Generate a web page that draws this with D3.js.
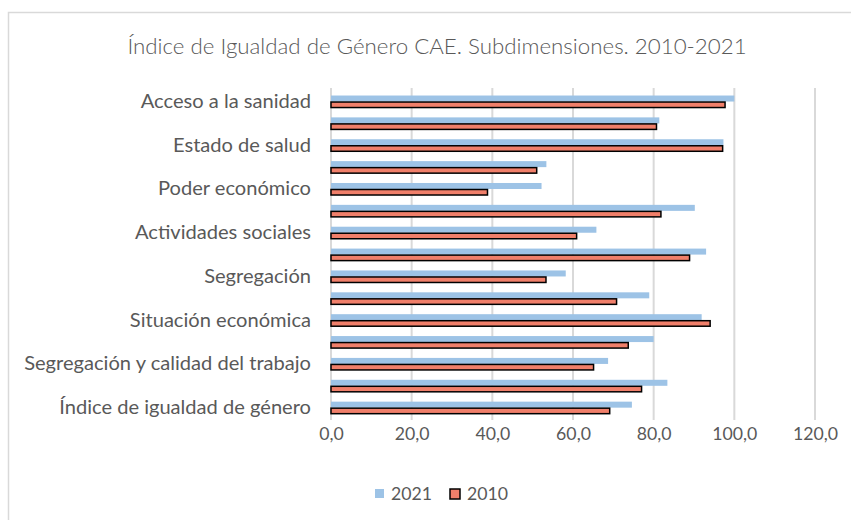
<!DOCTYPE html>
<html>
<head>
<meta charset="utf-8">
<script src="https://cdn.jsdelivr.net/npm/d3@7"></script>
<style>
  body { margin: 0; background: #fff; }
  text { font-family: Lato, "Open Sans", sans-serif; fill: #595959; }
</style>
</head>
<body>
<svg id="chart" width="851" height="520"></svg>
<script>
// categories, top to bottom as drawn
var categories = [
    'Acceso a la sanidad',
    'Conductas saludables',
    'Estado de salud',
    'Poder social',
    'Poder económico',
    'Poder político',
    'Actividades sociales',
    'Actividades de cuidado',
    'Segregación',
    'Logro y participación',
    'Situación económica',
    'Recursos financieros',
    'Segregación y calidad del trabajo',
    'Participación',
    'Índice de igualdad de género'
];
var values2021 = [100.0, 81.4, 97.3, 53.4, 52.2, 90.2, 65.8, 93.0, 58.2, 78.9, 91.9, 80.0, 68.7, 83.4, 74.6];
var values2010 = [97.7, 80.7, 97.1, 51.0, 38.8, 81.8, 60.9, 88.9, 53.3, 70.8, 94.0, 73.7, 65.1, 77.0, 69.1];
var series = ['2021', '2010'];
var xTicks = [0, 20, 40, 60, 80, 100, 120];

var colors = { '2021': '#9dc3e6', '2010': '#f07f6a' };

var svg = d3.select('#chart');

// chart frame (cut off at right and bottom like the source)
svg.append('rect')
    .attr('x', 8.5).attr('y', 12.5)
    .attr('width', 860).attr('height', 530)
    .attr('fill', 'none')
    .attr('stroke', '#d9d9d9')
    .attr('stroke-width', 1.5);

svg.append('text')
    .attr('x', 437).attr('y', 54)
    .attr('text-anchor', 'middle')
    .style('font-size', '22.3px')
    .style('font-weight', 300)
    .text('Índice de Igualdad de Género CAE. Subdimensiones. 2010-2021');

var x = d3.scaleLinear().domain([0, 120]).range([331, 815]);
var y = d3.scaleBand().domain(categories).range([90.6, 418.6])
    .paddingInner(0.45).paddingOuter(0.225);
var ySub = d3.scaleBand().domain(series).range([0, y.bandwidth()]);

var comma = d3.formatLocale({ decimal: ',', thousands: '.', grouping: [3], currency: ['', '€'] }).format('.1f');

// gridlines
svg.append('g')
    .selectAll('line')
    .data(xTicks)
    .enter()
    .append('line')
    .attr('x1', function(d) { return x(d); })
    .attr('x2', function(d) { return x(d); })
    .attr('y1', 88)
    .attr('y2', 420)
    .attr('stroke', '#d9d9d9')
    .attr('stroke-width', 2);

// x tick labels
var xAxis = svg.append('g')
    .attr('transform', 'translate(0,420)')
    .call(d3.axisBottom(x).tickValues(xTicks).tickFormat(comma).tickSize(0).tickPadding(7));
xAxis.select('.domain').remove();
xAxis.selectAll('text')
    .style('font-size', '17.7px')
    .style('fill', '#595959')
    .style('font-family', 'Lato, "Open Sans", sans-serif');

// y labels, every other category like the source
var yAxis = svg.append('g')
    .attr('transform', 'translate(331,0)')
    .call(d3.axisLeft(y)
        .tickValues(categories.filter(function(d, i) { return i % 2 === 0; }))
        .tickSize(0).tickPadding(20));
yAxis.select('.domain').remove();
yAxis.selectAll('text')
    .style('font-size', '20.1px')
    .style('fill', '#595959')
    .style('font-family', 'Lato, "Open Sans", sans-serif');

var rows = categories.map(function(c, i) {
    return { cat: c, '2021': values2021[i], '2010': values2010[i] };
});

var groups = svg.append('g')
    .selectAll('g')
    .data(rows)
    .enter()
    .append('g')
    .attr('transform', function(d) { return 'translate(0,' + y(d.cat) + ')'; });

groups.append('rect')
    .attr('x', x(0))
    .attr('y', ySub('2021'))
    .attr('width', function(d) { return x(d['2021']) - x(0); })
    .attr('height', ySub.bandwidth())
    .attr('fill', colors['2021']);

groups.append('rect')
    .attr('x', x(0))
    .attr('y', function() { return ySub('2010') + 0.5; })
    .attr('width', function(d) { return x(d['2010']) - x(0); })
    .attr('height', ySub.bandwidth() - 0.5)
    .attr('fill', colors['2010'])
    .attr('stroke', '#000')
    .attr('stroke-width', 1.5);

// legend
var legend = svg.append('g');
legend.append('rect')
    .attr('x', 375).attr('y', 489).attr('width', 9).attr('height', 9)
    .attr('fill', colors['2021']);
legend.append('text')
    .attr('x', 391).attr('y', 500)
    .style('font-size', '17.7px')
    .text('2021');
legend.append('rect')
    .attr('x', 450).attr('y', 489).attr('width', 10).attr('height', 10)
    .attr('fill', colors['2010'])
    .attr('stroke', '#000')
    .attr('stroke-width', 1.5);
legend.append('text')
    .attr('x', 467).attr('y', 500)
    .style('font-size', '17.7px')
    .text('2010');
</script>
</body>
</html>
